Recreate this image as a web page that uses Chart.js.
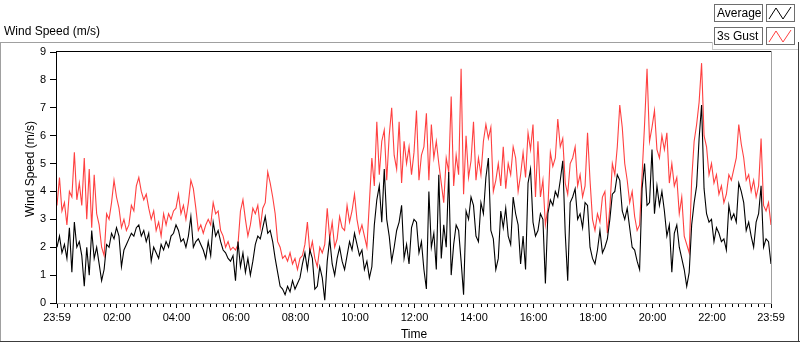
<!DOCTYPE html>
<html lang="en">
<head>
  <meta charset="UTF-8">
  <title>Wind Speed (m/s)</title>
  <script src="https://cdn.jsdelivr.net/npm/chart.js"></script>
  <style>
    html, body { margin: 0; padding: 0; background: #fff; }
  </style>
</head>
<body>
  <canvas id="windChart" width="800" height="342"></canvas>

  <script>
    // one reading every 5 minutes, 23:59 -> 23:59
    const stepMinutes = 5;

    const avgSpeed = [
      2.0,2.4,1.8,2.1,1.6,2.7,1.1,2.9,2.0,2.2,1.7,0.6,2.0,1.0,2.6,1.6,2.0,1.4,0.8,1.2,
      2.1,2.0,2.5,2.3,2.7,2.4,1.3,1.9,2.1,2.3,2.5,2.4,2.7,2.8,2.4,2.6,2.2,2.5,1.5,2.0,
      1.8,1.6,2.1,1.9,2.2,2.0,2.4,2.5,2.8,
      2.6,2.2,2.3,2.0,2.4,3.1,2.0,2.2,2.3,2.1,1.9,1.6,2.2,1.7,2.9,2.4,2.6,2.2,1.9,1.8,
      1.6,1.5,1.7,0.8,2.2,1.3,1.8,1.1,1.6,1.0,1.5,2.1,2.4,2.3,2.7,3.1,2.5,2.6,2.2,1.6,
      1.1,0.6,0.5,0.3,0.6,0.4,0.8,0.5,
      0.7,0.9,1.4,1.8,1.2,1.9,1.6,0.5,0.6,1.3,0.9,0.1,1.5,2.3,1.4,1.0,1.6,2.0,1.5,1.2,
      1.7,2.2,1.9,2.5,2.1,1.7,1.9,1.2,1.5,0.9,1.3,2.8,3.7,4.2,2.9,4.8,3.0,2.4,1.5,2.0,
      2.6,2.9,3.5,1.6,2.1,1.4,2.7,3.0,2.9,
      1.8,2.2,1.2,0.5,4.0,2.0,2.5,1.2,4.6,1.6,2.8,2.0,4.7,1.0,2.1,2.8,2.6,1.5,0.3,3.3,
      3.0,3.8,3.5,2.4,2.2,3.6,3.2,4.5,5.2,2.6,2.3,1.2,1.6,3.3,2.7,3.4,2.4,2.1,3.8,3.2,
      2.8,1.4,2.4,1.2,4.3,4.8,2.9,2.4,
      2.6,3.2,3.0,0.7,3.2,3.7,3.5,4.0,3.8,4.4,5.1,2.5,0.8,3.6,3.8,4.1,3.0,3.2,2.7,3.6,
      3.5,2.0,1.6,1.4,1.9,2.6,1.8,2.0,2.3,3.0,3.9,4.0,4.6,4.4,3.3,3.0,3.4,2.7,2.0,1.9,
      1.5,1.2,4.1,5.0,3.5,3.6,5.5,3.2,4.2,
      3.5,4.0,3.3,2.4,2.8,1.1,2.5,2.8,2.0,1.6,1.2,0.6,1.1,2.8,3.6,4.2,5.9,7.1,4.1,3.2,
      2.9,3.0,2.2,2.7,2.5,2.2,2.3,1.9,3.5,3.0,3.2,2.9,4.3,4.0,3.6,2.6,2.9,2.4,2.0,2.9,
      3.2,4.2,2.0,2.3,2.2,1.4
    ];

    const gustSpeed = [
      3.5,4.5,3.3,3.6,2.8,4.0,3.8,5.4,3.7,4.3,3.5,5.2,3.0,4.8,2.7,4.6,3.2,2.8,2.0,1.7,
      3.2,3.0,3.6,4.4,3.8,3.4,2.7,3.0,2.6,2.8,3.5,3.3,4.2,4.5,4.0,3.7,3.9,3.4,3.0,3.3,
      2.6,2.9,2.4,3.2,2.8,3.2,3.0,3.3,3.4,
      3.9,3.2,3.5,3.0,3.6,4.4,4.1,3.4,2.6,2.8,2.5,2.8,3.0,2.8,3.6,3.2,3.3,2.6,2.4,2.0,
      2.2,1.9,2.0,1.9,2.1,3.3,3.7,3.0,2.4,2.8,3.4,3.2,3.5,2.7,3.4,3.6,4.7,4.3,3.8,3.2,
      2.2,2.0,1.6,1.7,1.5,1.8,1.4,1.6,
      1.2,1.6,1.7,2.1,2.9,1.8,2.2,1.6,1.3,2.0,1.8,2.1,3.4,2.3,2.9,2.0,2.3,3.1,2.7,2.6,
      3.5,2.9,3.3,3.9,3.0,2.5,2.8,2.4,2.0,3.6,5.2,4.2,6.5,4.6,5.8,6.2,4.4,6.0,7.0,5.3,
      4.8,6.5,4.3,5.8,5.0,5.6,4.6,5.4,6.9,
      4.4,5.3,5.6,6.8,4.4,6.4,5.2,5.8,5.0,4.3,3.6,5.2,4.7,7.4,4.2,5.3,4.6,8.4,3.9,6.0,
      4.5,5.1,6.5,4.4,5.2,4.6,5.8,6.4,5.9,6.3,4.0,4.4,5.0,4.2,5.6,4.1,5.0,4.6,5.6,5.2,
      4.0,4.6,5.4,4.5,6.1,5.5,6.4,3.8,
      5.8,3.8,4.4,2.8,3.4,5.4,4.9,5.2,6.6,5.6,5.9,4.3,3.9,5.0,5.2,5.6,4.2,4.6,3.8,4.2,
      6.1,4.4,3.0,2.6,3.2,2.9,3.8,4.0,2.5,3.4,5.0,4.6,5.6,7.1,6.3,5.0,4.4,3.6,4.0,3.1,
      2.6,2.8,4.6,6.4,8.4,5.8,6.3,6.9,5.5,
      5.2,6.0,5.5,6.1,4.3,5.0,4.2,4.5,3.2,3.8,2.4,2.1,1.8,4.4,5.8,6.4,7.2,8.6,6.0,5.6,
      4.6,5.0,4.3,4.6,3.9,4.2,3.6,3.9,4.6,4.4,4.8,5.2,6.4,5.7,5.2,4.4,4.6,4.0,4.4,3.8,
      4.2,5.9,3.5,3.3,3.6,2.8
    ];

    // minutes after 23:59 of the previous day
    const timeTickMinutes = [0, 121, 241, 361, 481, 601, 721, 841, 961, 1081, 1201, 1321, 1440];
    const timeTickLabels = ['23:59', '02:00', '04:00', '06:00', '08:00', '10:00', '12:00',
                            '14:00', '16:00', '18:00', '20:00', '22:00', '23:59'];

    const seriesNames = ['Average', '3s Gust'];
    const captionText = 'Wind Speed (m/s)';
    const yTitleText = 'Wind Speed (m/s)';

    const FONT = '"Liberation Sans", Arial, sans-serif';
    const minorPerMajor = 9;

    function hline(ctx, x1, x2, y) {
      ctx.beginPath(); ctx.moveTo(x1, y); ctx.lineTo(x2, y); ctx.stroke();
    }
    function vline(ctx, x, y1, y2) {
      ctx.beginPath(); ctx.moveTo(x, y1); ctx.lineTo(x, y2); ctx.stroke();
    }

    // LabVIEW-ish panel: outer frame, captions, plot border, minor ticks, legend
    const panelPlugin = {
      id: 'panel',
      beforeDraw(chart) {
        const ctx = chart.ctx;
        ctx.save();
        ctx.fillStyle = '#fff';
        ctx.fillRect(0, 0, chart.width, chart.height);
        ctx.lineWidth = 1;
        ctx.strokeStyle = '#a0a0a0';
        hline(ctx, 0, 712, 42.5);
        vline(ctx, 0.5, 42, 342);
        ctx.strokeStyle = '#3c3c3c';
        hline(ctx, 0, 800, 341.5);
        vline(ctx, 798.5, 42, 342);
        ctx.fillStyle = '#000';
        ctx.font = '12px ' + FONT;
        ctx.textBaseline = 'middle';
        ctx.textAlign = 'left';
        ctx.fillText(captionText, 4, 32);
        // y axis title, sits a bit above the plot's middle like the original
        ctx.translate(31, 169);
        ctx.rotate(-Math.PI / 2);
        ctx.textAlign = 'center';
        ctx.fillText(yTitleText, 0, 0);
        ctx.restore();
      },
      afterDraw(chart) {
        const ctx = chart.ctx;
        const a = chart.chartArea;
        const x = chart.scales.x;
        ctx.save();
        ctx.lineWidth = 1;

        // plot border
        ctx.strokeStyle = '#000';
        hline(ctx, a.left, a.right, Math.round(a.top) - 0.5);
        vline(ctx, Math.round(a.left) - 0.5, a.top - 1, a.bottom);
        ctx.strokeStyle = '#a0a0a0';
        hline(ctx, a.left, a.right + 1, Math.round(a.bottom) + 0.5);
        vline(ctx, Math.round(a.right) + 0.5, a.top - 1, a.bottom + 1);

        // minor ticks
        ctx.strokeStyle = '#000';
        for (let k = 0; k < timeTickMinutes.length - 1; k++) {
          const m0 = timeTickMinutes[k], m1 = timeTickMinutes[k + 1];
          for (let j = 1; j < minorPerMajor; j++) {
            const px = Math.round(x.getPixelForValue(m0 + (m1 - m0) * j / minorPerMajor)) + 0.5;
            vline(ctx, px, a.bottom + 1, a.bottom + 4);
          }
        }

        // legend
        ctx.fillStyle = '#fff';
        ctx.fillRect(712, 0, 88, 49);
        ctx.strokeStyle = '#c8c8c8';
        vline(ctx, 712.5, 42, 50);
        hline(ctx, 712, 798, 49.5);
        ctx.strokeStyle = '#3c3c3c';
        vline(ctx, 798.5, 42, 50);
        chart.data.datasets.forEach((ds, k) => {
          const y0 = 4 + k * 23;
          ctx.fillStyle = '#fff';
          ctx.strokeStyle = '#6e6e6e';
          ctx.fillRect(714, y0, 49, 18);
          ctx.strokeRect(714.5, y0 + 0.5, 48, 17);
          ctx.fillRect(766, y0, 29, 18);
          ctx.strokeRect(766.5, y0 + 0.5, 28, 17);
          ctx.fillStyle = '#000';
          ctx.font = '12px ' + FONT;
          ctx.textBaseline = 'middle';
          ctx.fillText(ds.label, 717, y0 + 9.5);
          ctx.strokeStyle = ds.borderColor;
          ctx.beginPath();
          ctx.moveTo(769, y0 + 15);
          ctx.lineTo(776, y0 + 4);
          ctx.lineTo(783, y0 + 15);
          ctx.lineTo(791, y0 + 3);
          ctx.stroke();
        });
        ctx.restore();
      }
    };

    const toPoints = arr => arr.map((v, i) => ({ x: i * stepMinutes, y: v }));

    new Chart(document.getElementById('windChart').getContext('2d'), {
      type: 'line',
      data: {
        datasets: [
          { label: seriesNames[0], data: toPoints(avgSpeed), borderColor: '#000000',
            borderWidth: 1.1, pointRadius: 0, tension: 0 },
          { label: seriesNames[1], data: toPoints(gustSpeed), borderColor: '#ff4040',
            borderWidth: 1.1, pointRadius: 0, tension: 0 }
        ]
      },
      options: {
        responsive: false,
        animation: false,
        layout: { padding: { left: 0, top: 52, right: 29, bottom: 0 } },
        plugins: { legend: { display: false }, tooltip: { enabled: false } },
        scales: {
          x: {
            type: 'linear',
            min: 0,
            max: 1440,
            afterFit(s) { s.height = 39; },
            afterBuildTicks(s) { s.ticks = timeTickMinutes.map(v => ({ value: v })); },
            ticks: {
              autoSkip: false, maxRotation: 0, padding: 3, color: '#000',
              font: { family: FONT, size: 11 },
              callback: (v, i) => timeTickLabels[i]
            },
            grid: { drawOnChartArea: false, tickLength: 5, tickColor: '#000', tickWidth: 1 },
            border: { display: false },
            title: { display: true, text: 'Time', color: '#000',
                     font: { family: FONT, size: 12 }, padding: { top: 0, bottom: 0 } }
          },
          y: {
            min: 0,
            max: 9,
            afterFit(s) { s.width = 57; },
            ticks: { stepSize: 1, padding: 4, color: '#000', font: { family: FONT, size: 11 } },
            grid: { drawOnChartArea: false, tickLength: 7, tickColor: '#000', tickWidth: 1 },
            border: { display: false },
            title: { display: false }
          }
        }
      },
      plugins: [panelPlugin]
    });
  </script>
</body>
</html>
